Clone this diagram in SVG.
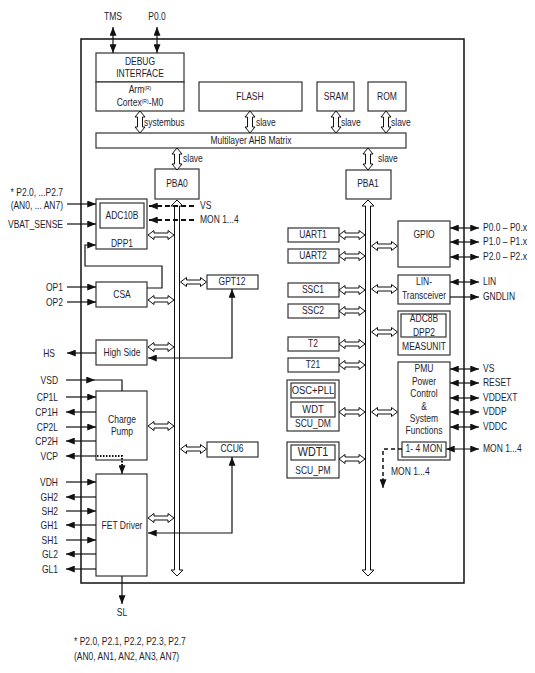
<svg xmlns="http://www.w3.org/2000/svg" width="535" height="673" viewBox="0 0 535 673">
<style>
.t{font-family:"Liberation Sans",Arial,sans-serif;font-size:10px;fill:#1e1e30;transform-box:fill-box;transform:scaleX(0.85);transform-origin:left center}
.c{text-anchor:middle;transform-origin:center center}
.r{text-anchor:end;transform-origin:right center}
.big{font-size:11.5px;transform:scaleX(0.82)}
.box{fill:#fff;stroke:#333;stroke-width:1.2}
.ln{fill:none;stroke:#111;stroke-width:1.2}
.hol{fill:#fff;stroke:#111;stroke-width:1}
.dash{fill:none;stroke:#111;stroke-width:2;stroke-dasharray:5,3}
.dot{fill:none;stroke:#111;stroke-width:2;stroke-dasharray:1.5,1.5}
.dash2{fill:none;stroke:#111;stroke-width:1.5;stroke-dasharray:4,3}
</style>
<defs>
<marker id="ah" viewBox="0 0 10 8" refX="10" refY="4" markerWidth="9" markerHeight="7" orient="auto-start-reverse" markerUnits="userSpaceOnUse"><path d="M0,0 L10,4 L0,8 Z" fill="#111"/></marker>
<path id="dh" d="M0,0 L6,-4.5 L6,-2 L20,-2 L20,-4.5 L26,0 L20,4.5 L20,2 L6,2 L6,4.5 Z"/>
<path id="dv" d="M0,0 L-5,6 L-2.5,6 L-2.5,16 L-5,16 L0,22 L5,16 L2.5,16 L2.5,6 L5,6 Z"/>
</defs>
<rect x="0" y="0" width="535" height="673" fill="#fff"/>

<g id="chip"><rect x="81" y="39" width="383" height="544" fill="none" stroke="#111" stroke-width="1.5"/></g>

<g id="debug">
<rect class="box" x="96" y="53" width="88" height="29"/>
<text class="t c" x="140" y="65.5">DEBUG</text>
<text class="t c" x="140" y="77">INTERFACE</text>
</g>
<g id="cpu">
<rect class="box" x="96" y="82" width="88" height="29"/>
<text class="t c" x="140" y="93.5">Arm<tspan font-size="6" dy="-3">(R)</tspan></text>
<text class="t c" x="140" y="106.5">Cortex<tspan font-size="6" dy="-3">(R)</tspan><tspan dy="3">-M0</tspan></text>
</g>
<g id="flash"><rect class="box" x="199" y="82" width="103" height="29"/><text class="t c" x="250" y="100.5">FLASH</text></g>
<g id="sram"><rect class="box" x="317" y="82" width="37" height="29"/><text class="t c" x="336" y="100.5">SRAM</text></g>
<g id="rom"><rect class="box" x="368" y="82" width="38" height="29"/><text class="t c" x="387" y="100.5">ROM</text></g>
<g id="ahb"><rect class="box" x="96" y="133" width="310" height="15"/><text class="t c" x="251" y="144">Multilayer AHB Matrix</text></g>
<g id="pba0"><rect class="box" x="155" y="169" width="44" height="30"/><text class="t c" x="177" y="187.5">PBA0</text></g>
<g id="pba1"><rect class="box" x="346" y="170" width="45" height="29"/><text class="t c" x="368" y="187.5">PBA1</text></g>

<g id="dpp1">
<rect class="box" x="96" y="199" width="51" height="50"/>
<rect class="box" x="100" y="203" width="44" height="25"/>
<text class="t c" x="122" y="219.5">ADC10B</text>
<text class="t c" x="122" y="247">DPP1</text>
</g>
<g id="csa"><rect class="box" x="96" y="282" width="51" height="25"/><text class="t c" x="122" y="298.5">CSA</text></g>
<g id="gpt12"><rect class="box" x="207" y="275" width="51" height="14"/><text class="t c" x="232" y="285.5">GPT12</text></g>
<g id="highside"><rect class="box" x="96" y="340" width="51" height="25"/><text class="t c" x="122" y="356.5">High Side</text></g>
<g id="chargepump"><rect class="box" x="96" y="391" width="51" height="69"/><text class="t c" x="122" y="423.5">Charge</text><text class="t c" x="122" y="435.5">Pump</text></g>
<g id="ccu6"><rect class="box" x="207" y="442" width="51" height="15"/><text class="t c" x="232" y="452.5">CCU6</text></g>
<g id="fetdriver"><rect class="box" x="96" y="474" width="51" height="102"/><text class="t c" x="122" y="529.5">FET Driver</text></g>

<g id="uart1"><rect class="box" x="288" y="228" width="51" height="14"/><text class="t c" x="313" y="238.5">UART1</text></g>
<g id="uart2"><rect class="box" x="288" y="249" width="51" height="14"/><text class="t c" x="313" y="259.5">UART2</text></g>
<g id="ssc1"><rect class="box" x="288" y="283" width="51" height="14"/><text class="t c" x="313" y="293.5">SSC1</text></g>
<g id="ssc2"><rect class="box" x="288" y="304" width="51" height="14"/><text class="t c" x="313" y="314.5">SSC2</text></g>
<g id="t2"><rect class="box" x="288" y="337" width="51" height="14"/><text class="t c" x="313" y="347.5">T2</text></g>
<g id="t21"><rect class="box" x="288" y="358" width="51" height="14"/><text class="t c" x="313" y="368.5">T21</text></g>
<g id="scudm">
<rect class="box" x="287" y="380" width="52" height="51"/>
<rect class="box" x="291" y="383" width="44" height="15"/>
<text class="t c big" x="313" y="394.5">OSC+PLL</text>
<rect class="box" x="291" y="402" width="44" height="15"/>
<text class="t c big" x="313" y="413.5">WDT</text>
<text class="t c" x="313" y="427.5">SCU_DM</text>
</g>
<g id="scupm">
<rect class="box" x="287" y="442" width="52" height="36"/>
<rect class="box" x="291" y="445" width="44" height="15"/>
<text class="t c big" x="313" y="456.5" style="font-size:12px;transform:scaleX(0.9)">WDT1</text>
<text class="t c" x="313" y="474.5">SCU_PM</text>
</g>
<g id="gpio"><rect class="box" x="398" y="221" width="52" height="46"/><text class="t c" x="424" y="238.5">GPIO</text></g>
<g id="lin"><rect class="box" x="398" y="275" width="52" height="29"/><text class="t c" x="424" y="285.5">LIN-</text><text class="t c" x="424" y="299.5">Transceiver</text></g>
<g id="measunit">
<rect class="box" x="398" y="311" width="52" height="44"/>
<rect class="box" x="401" y="314" width="45" height="23"/>
<text class="t c" x="424" y="322.5">ADC8B</text>
<text class="t c" x="424" y="336.5">DPP2</text>
<text class="t c" x="424" y="350.5">MEASUNIT</text>
</g>
<g id="pmu">
<rect class="box" x="398" y="362" width="52" height="98"/>
<text class="t c" x="424" y="372.5">PMU</text>
<text class="t c" x="424" y="385.5">Power</text>
<text class="t c" x="424" y="397.5">Control</text>
<text class="t c" x="424" y="410.5">&amp;</text>
<text class="t c" x="424" y="422.5">System</text>
<text class="t c" x="424" y="434.5">Functions</text>
<rect class="box" x="402" y="442" width="44" height="15"/>
<text class="t c" x="424" y="452.5">1- 4 MON</text>
</g>

<g id="connectors">
<path class="hol" d="M177,200 L183,206 L179.5,206 L179.5,570 L183,570 L177,576 L171,570 L174.5,570 L174.5,206 L171,206 Z"/>
<path class="hol" d="M368,200 L374,206 L370.5,206 L370.5,570 L374,570 L368,576 L362,570 L365.5,570 L365.5,206 L362,206 Z"/>
<use href="#dv" class="hol" x="140" y="111"/>
<use href="#dv" class="hol" x="250" y="111"/>
<use href="#dv" class="hol" x="336" y="111"/>
<use href="#dv" class="hol" x="386" y="111"/>
<use href="#dv" class="hol" x="177" y="148"/>
<use href="#dv" class="hol" x="368" y="148"/>
<use href="#dh" class="hol" x="148" y="235"/>
<use href="#dh" class="hol" x="148" y="300"/>
<use href="#dh" class="hol" x="180.5" y="282"/>
<use href="#dh" class="hol" x="148" y="347"/>
<use href="#dh" class="hol" x="148" y="426"/>
<use href="#dh" class="hol" x="180.5" y="449"/>
<use href="#dh" class="hol" x="148" y="518"/>
<use href="#dh" class="hol" x="339" y="235"/>
<use href="#dh" class="hol" x="339" y="256"/>
<use href="#dh" class="hol" x="339" y="290"/>
<use href="#dh" class="hol" x="339" y="311"/>
<use href="#dh" class="hol" x="339" y="344"/>
<use href="#dh" class="hol" x="339" y="365"/>
<use href="#dh" class="hol" x="339" y="412"/>
<use href="#dh" class="hol" x="339" y="459"/>
<use href="#dh" class="hol" x="371.5" y="246"/>
<use href="#dh" class="hol" x="371.5" y="289"/>
<use href="#dh" class="hol" x="371.5" y="332"/>
<use href="#dh" class="hol" x="371.5" y="412"/>

<line class="ln" x1="113" y1="27" x2="113" y2="53" marker-start="url(#ah)" marker-end="url(#ah)"/>
<line class="ln" x1="157" y1="27" x2="157" y2="53" marker-start="url(#ah)" marker-end="url(#ah)"/>

<line class="ln" x1="67" y1="204" x2="96" y2="204" marker-end="url(#ah)"/>
<line class="ln" x1="67" y1="224" x2="96" y2="224" marker-end="url(#ah)"/>
<line class="ln" x1="67" y1="287" x2="96" y2="287" marker-end="url(#ah)"/>
<line class="ln" x1="67" y1="302" x2="96" y2="302" marker-end="url(#ah)"/>
<line class="ln" x1="96" y1="353" x2="67" y2="353" marker-end="url(#ah)"/>
<line class="ln" x1="66" y1="380" x2="95" y2="380" marker-end="url(#ah)"/>
<polyline class="ln" points="95,380 122,380 122,391"/>
<line class="ln" x1="66" y1="397" x2="96" y2="397" marker-end="url(#ah)"/>
<line class="ln" x1="96" y1="412" x2="66" y2="412" marker-end="url(#ah)"/>
<line class="ln" x1="66" y1="427" x2="96" y2="427" marker-end="url(#ah)"/>
<line class="ln" x1="96" y1="441" x2="66" y2="441" marker-end="url(#ah)"/>
<line class="ln" x1="96" y1="456" x2="66" y2="456" marker-end="url(#ah)"/>
<polyline class="dot" points="97,456 122,456 122,466"/>
<line class="ln" x1="122" y1="465" x2="122" y2="474" marker-end="url(#ah)"/>
<line class="ln" x1="66" y1="482" x2="96" y2="482" marker-end="url(#ah)"/>
<line class="ln" x1="96" y1="497" x2="66" y2="497" marker-end="url(#ah)"/>
<line class="ln" x1="66" y1="511" x2="96" y2="511" marker-end="url(#ah)"/>
<line class="ln" x1="96" y1="525" x2="66" y2="525" marker-end="url(#ah)"/>
<line class="ln" x1="66" y1="540" x2="96" y2="540" marker-end="url(#ah)"/>
<line class="ln" x1="96" y1="554" x2="66" y2="554" marker-end="url(#ah)"/>
<line class="ln" x1="96" y1="569" x2="66" y2="569" marker-end="url(#ah)"/>
<line class="ln" x1="122" y1="576" x2="122" y2="604" marker-end="url(#ah)"/>

<polyline class="ln" points="147,288 162,288 162,266 85,266 85,245 96,245" marker-end="url(#ah)"/>
<line class="dash" x1="194" y1="206" x2="149" y2="206" marker-end="url(#ah)"/>
<line class="dash" x1="194" y1="220" x2="149" y2="220" marker-end="url(#ah)"/>
<polyline class="ln" points="148,358 232,358 232,289" marker-start="url(#ah)" marker-end="url(#ah)"/>
<polyline class="ln" points="148,533 232,533 232,457" marker-start="url(#ah)" marker-end="url(#ah)"/>
<polyline class="dash2" points="402,449 383,449 383,480"/>
<line class="ln" x1="383" y1="478" x2="383" y2="488" marker-end="url(#ah)"/>

<line class="ln" x1="450" y1="228" x2="479" y2="228" marker-start="url(#ah)" marker-end="url(#ah)"/>
<line class="ln" x1="450" y1="242" x2="479" y2="242" marker-start="url(#ah)" marker-end="url(#ah)"/>
<line class="ln" x1="450" y1="257" x2="479" y2="257" marker-start="url(#ah)" marker-end="url(#ah)"/>
<line class="ln" x1="450" y1="282" x2="479" y2="282" marker-start="url(#ah)" marker-end="url(#ah)"/>
<line class="ln" x1="450" y1="297" x2="479" y2="297" marker-end="url(#ah)"/>
<line class="ln" x1="450" y1="369" x2="479" y2="369" marker-start="url(#ah)" marker-end="url(#ah)"/>
<line class="ln" x1="450" y1="383" x2="479" y2="383" marker-start="url(#ah)" marker-end="url(#ah)"/>
<line class="ln" x1="450" y1="398" x2="479" y2="398" marker-start="url(#ah)" marker-end="url(#ah)"/>
<line class="ln" x1="450" y1="412" x2="479" y2="412" marker-start="url(#ah)" marker-end="url(#ah)"/>
<line class="ln" x1="450" y1="427" x2="479" y2="427" marker-start="url(#ah)" marker-end="url(#ah)"/>
<line class="ln" x1="446" y1="449" x2="479" y2="449" marker-start="url(#ah)" marker-end="url(#ah)"/>
</g>

<g id="labels">
<text class="t c" x="113" y="20.5">TMS</text>
<text class="t c" x="157" y="20.5">P0.0</text>
<text class="t" x="144" y="126">systembus</text>
<text class="t" x="256" y="126">slave</text>
<text class="t" x="341" y="126">slave</text>
<text class="t" x="391" y="126">slave</text>
<text class="t" x="183" y="162.5">slave</text>
<text class="t" x="378" y="162.5">slave</text>
<text class="t" x="200" y="209.5">VS</text>
<text class="t" x="200" y="223.5">MON 1...4</text>
<text class="t r" x="63" y="196.5">* P2.0, ...P2.7</text>
<text class="t r" x="63" y="209">(AN0, ... AN7)</text>
<text class="t r" x="63" y="228">VBAT_SENSE</text>
<text class="t r" x="63" y="291">OP1</text>
<text class="t r" x="63" y="306">OP2</text>
<text class="t r" x="55" y="357">HS</text>
<text class="t r" x="58" y="384">VSD</text>
<text class="t r" x="58" y="401">CP1L</text>
<text class="t r" x="58" y="416">CP1H</text>
<text class="t r" x="58" y="431">CP2L</text>
<text class="t r" x="58" y="445">CP2H</text>
<text class="t r" x="58" y="460">VCP</text>
<text class="t r" x="58" y="486">VDH</text>
<text class="t r" x="58" y="501">GH2</text>
<text class="t r" x="58" y="515">SH2</text>
<text class="t r" x="58" y="529">GH1</text>
<text class="t r" x="58" y="544">SH1</text>
<text class="t r" x="58" y="558">GL2</text>
<text class="t r" x="58" y="573">GL1</text>
<text class="t c" x="122" y="616.5">SL</text>
<text class="t" x="74" y="645.5">* P2.0, P2.1, P2.2, P2.3, P2.7</text>
<text class="t" x="74" y="660.5">(AN0, AN1, AN2, AN3, AN7)</text>
<text class="t" x="483" y="231.5">P0.0 – P0.x</text>
<text class="t" x="483" y="245.5">P1.0 – P1.x</text>
<text class="t" x="483" y="260.5">P2.0 – P2.x</text>
<text class="t" x="483" y="285.5">LIN</text>
<text class="t" x="483" y="300.5">GNDLIN</text>
<text class="t" x="483" y="372.5">VS</text>
<text class="t" x="483" y="386.5">RESET</text>
<text class="t" x="483" y="401.5">VDDEXT</text>
<text class="t" x="483" y="415.5">VDDP</text>
<text class="t" x="483" y="430.5">VDDC</text>
<text class="t" x="483" y="452.5">MON 1...4</text>
<text class="t" x="391" y="475.5">MON 1...4</text>
</g>
</svg>
